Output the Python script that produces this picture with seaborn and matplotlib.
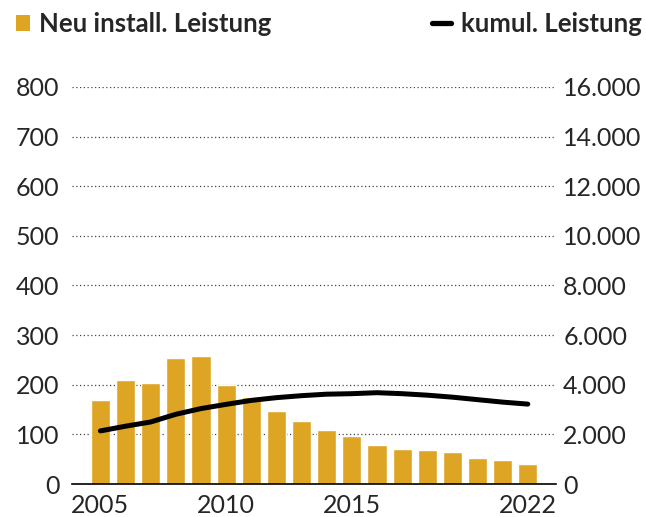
import pandas as pd
import matplotlib.pyplot as plt
import seaborn as sns
from matplotlib.patches import Patch
from matplotlib.lines import Line2D

years = list(range(2005, 2023))
neu_leistung = [169, 210, 204, 254, 257, 200, 175, 147, 127, 109,
                97, 79, 71, 69, 65, 53, 49, 40]
kumul_leistung = [2140, 2330, 2500, 2810, 3040, 3210, 3370, 3480, 3560, 3620,
                  3640, 3680, 3640, 3580, 3500, 3400, 3300, 3220]

left_ticks = [0, 100, 200, 300, 400, 500, 600, 700, 800]
right_ticks = [0, 2000, 4000, 6000, 8000, 10000, 12000, 14000, 16000]
x_ticks = [2005, 2010, 2015, 2020, 2022]
x_labels = ["2005", "2010", "2015", "", "2022"]

df = pd.DataFrame({"year": years, "neu": neu_leistung, "kumul": kumul_leistung})

sns.set_style("white")
plt.rcParams['font.family'] = ['Lato', 'DejaVu Sans']

gold = "#DDA523"

fig = plt.figure(figsize=(6.46, 5.17), dpi=100)
ax = fig.add_axes([0.1115, 0.0638, 0.7495, 0.768])

sns.barplot(data=df, x="year", y="neu", native_scale=True, color=gold,
            saturation=1, width=0.76, ax=ax, zorder=2)

ax.set_ylim(0, 800)
ax.set_xlim(2003.87, 2023.13)
ax.set_yticks(left_ticks)
ax.set_xticks(x_ticks)
ax.set_xticklabels(x_labels)
ax.set_xlabel("")
ax.set_ylabel("")
ax.yaxis.grid(True, linestyle=(0, (1, 2)), color="#444444", linewidth=0.9, zorder=0)
ax.set_axisbelow(True)
for s in ["top", "left", "right"]:
    ax.spines[s].set_visible(False)
ax.spines["bottom"].set_color("black")
ax.spines["bottom"].set_linewidth(1.2)
ax.spines["bottom"].set_zorder(5)
ax.tick_params(axis="y", length=0, pad=9, labelsize=18)
ax.tick_params(axis="x", length=5, width=1, color="black", direction="out",
               pad=2, labelsize=18)

ax2 = ax.twinx()
sns.lineplot(data=df, x="year", y="kumul", color="black", linewidth=3.6,
             ax=ax2, solid_capstyle="round", solid_joinstyle="round", zorder=4)
ax2.set_ylim(0, 16000)
ax2.set_yticks(right_ticks)
ax2.set_yticklabels([f"{v:,}".replace(",", ".") for v in right_ticks])
ax2.set_ylabel("")
ax2.set_xlabel("")
for s in ["top", "left", "right", "bottom"]:
    ax2.spines[s].set_visible(False)
ax2.tick_params(axis="y", length=0, pad=5, labelsize=18)
ax2.grid(False)

# legend: two separate entries, left and right
fig.legend(handles=[Patch(facecolor=gold, edgecolor="none")],
           labels=["Neu install. Leistung"], loc="upper left",
           bbox_to_anchor=(16 / 646, 1 - 12 / 517), frameon=False,
           borderpad=0, borderaxespad=0,
           handlelength=0.55, handleheight=0.55, handletextpad=0.35,
           prop={"weight": "bold", "size": 18.5})
fig.legend(handles=[Line2D([0], [0], color="black", linewidth=3.8, solid_capstyle="round")],
           labels=["kumul. Leistung"], loc="upper right",
           bbox_to_anchor=(642 / 646, 1 - 12 / 517), frameon=False,
           borderpad=0, borderaxespad=0,
           handlelength=0.75, handletextpad=0.4,
           prop={"weight": "bold", "size": 18.5})

fig.savefig("out.png", dpi=100)
